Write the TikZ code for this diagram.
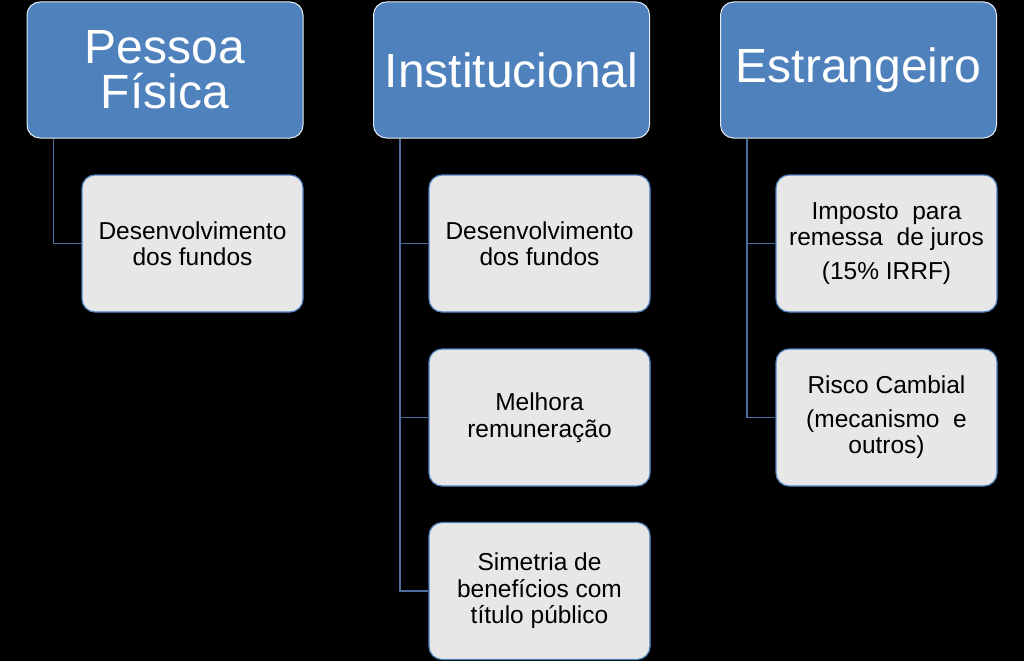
\documentclass[tikz,border=0pt]{standalone}
\usepackage{fontspec}
\setmainfont{Liberation Sans}
\definecolor{pblue}{HTML}{4F81BD}
\definecolor{cgray}{HTML}{E7E7E7}
\definecolor{lblue}{HTML}{4A6E9E}
\begin{document}
\begin{tikzpicture}[x=1pt,y=-1pt,
  parentbox/.style={draw=white!85!pblue, line width=1pt, fill=pblue, rounded corners=13pt,
    minimum width=276pt, minimum height=136pt, inner sep=0pt, text=white, align=center,
    font=\fontsize{48}{46}\selectfont},
  childbox/.style={draw=pblue, line width=1.2pt, fill=cgray, rounded corners=13pt,
    minimum width=221pt, minimum height=137pt, inner sep=0pt, text=black, align=center,
    font=\fontsize{24.5}{26.5}\selectfont},
  link/.style={draw=lblue, line width=1.3pt}]
\fill[black] (0,0) rectangle (1024,661);
\useasboundingbox (0,0) rectangle (1024,661);

\node[parentbox] (p1) at (165,70) {Pessoa\\[-1pt]Física};
\node[parentbox] (p2) at (511.5,70) {Institucional};
\node[parentbox] (p3) at (858.5,70) {Estrangeiro};

\node[childbox] (c1) at (192.5,243.5) {Desenvolvimento\\dos fundos};
\node[childbox] (c2) at (539.5,243.5) {Desenvolvimento\\dos fundos};
\node[childbox] (c3) at (539.5,417.5) {Melhora\\remuneração};
\node[childbox] (c4) at (539.5,591) {Simetria de\\benefícios com\\título público};
\node[childbox] (c5) at (886.5,243.5) {Imposto\ \ para\\remessa\ \ de juros\\[7pt](15\% IRRF)};
\node[childbox] (c6) at (886.5,417.5) {Risco Cambial\\[7pt](mecanismo\ \ e\\outros)};

\draw[link] ([xshift=27pt]p1.south west) |- (c1.west);
\draw[link] ([xshift=27pt]p2.south west) |- (c2.west);
\draw[link] ([xshift=27pt]p2.south west) |- (c3.west);
\draw[link] ([xshift=27pt]p2.south west) |- (c4.west);
\draw[link] ([xshift=27pt]p3.south west) |- (c5.west);
\draw[link] ([xshift=27pt]p3.south west) |- (c6.west);
\end{tikzpicture}
\end{document}
